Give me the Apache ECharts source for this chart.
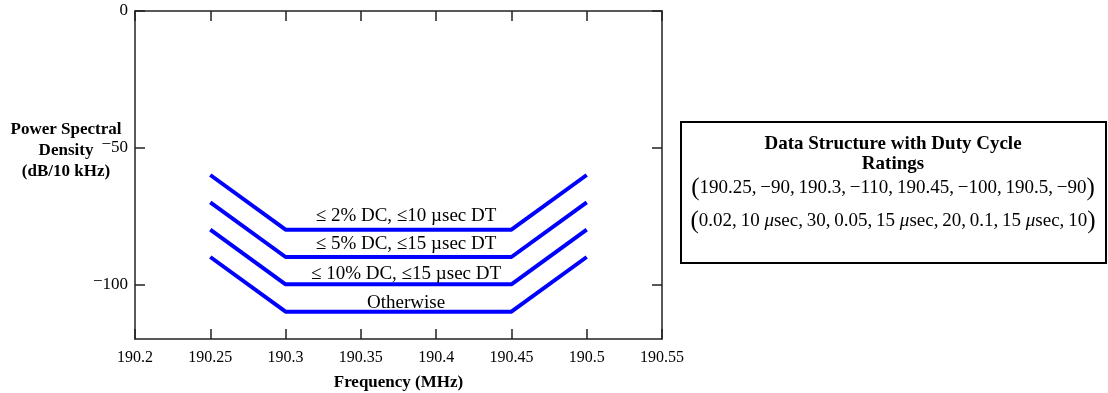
<!DOCTYPE html>
<html>
<head>
<meta charset="utf-8">
<script src="https://cdn.jsdelivr.net/npm/echarts@6/dist/echarts.min.js"></script>
<style>
  html, body { margin: 0; padding: 0; background: #fff; }
  #chart { width: 1108px; height: 393px; }
</style>
</head>
<body>
<div id="chart"></div>
<script>
// Emission mask breakpoints (MHz) shared by every duty-cycle tier
const freqs = [190.25, 190.3, 190.45, 190.5];
// PSD limits (dB/10 kHz) at each breakpoint, one row per tier
const tierLimits = [
  [-60, -80, -80, -60],
  [-70, -90, -90, -70],
  [-80, -100, -100, -80],
  [-90, -110, -110, -90]
];
const tierNames = [
  '≤ 2% DC, ≤10 µsec DT',
  '≤ 5% DC, ≤15 µsec DT',
  '≤ 10% DC, ≤15 µsec DT',
  'Otherwise'
];
const yTickValues = [0, -50, -100];
const yTitle = ['Power Spectral', 'Density', '(dB/10 kHz)'];
const boxTitle = ['Data Structure with Duty Cycle', 'Ratings'];
const boxRow1 = ['190.25', '−90', '190.3', '−110', '190.45', '−100', '190.5', '−90'];
const boxRow2 = ['0.02', '10 {i|μ}sec', '30', '0.05', '15 {i|μ}sec', '20', '0.1', '15 {i|μ}sec', '10'];

const FONT = '"Liberation Serif", "Times New Roman", serif';
const AXIS_COLOR = '#222';

const chart = echarts.init(document.getElementById('chart'), null, { renderer: 'canvas' });

// negative tick values use a raised minus
function yLabel(v) {
  return v < 0 ? '{m|−}{n|' + Math.abs(v) + '}' : '{n|' + v + '}';
}

// vertical lift of each tier caption above its flat segment
const captionLift = [13.5, 12.5, 10.5, 9];
const captionFreq = 190.38;

const series = tierLimits.map((row, i) => ({
  type: 'line',
  data: freqs.map((f, j) => [f, row[j]]),
  symbol: 'none',
  lineStyle: { color: '#0000ff', width: 4 },
  silent: true,
  markPoint: {
    symbol: 'circle',
    symbolSize: 0,
    silent: true,
    data: [{
      coord: [captionFreq, row[1]],
      label: {
        show: true,
        position: 'inside',
        offset: [0, -captionLift[i]],
        formatter: tierNames[i],
        color: '#000',
        fontFamily: FONT,
        fontSize: 19
      }
    }]
  }
}));

function tuple(items) {
  return '{p|(}' + items.join(',\u2009') + '{p|)}';
}

const boxCenter = 893;

const option = {
  animation: false,
  backgroundColor: '#fff',
  grid: { left: 135, right: 446, top: 11, bottom: 54, containLabel: false, outerBoundsMode: 'none' },
  xAxis: [{
    type: 'value',
    min: 190.2, max: 190.55, interval: 0.05,
    position: 'bottom',
    name: 'Frequency (MHz)',
    nameLocation: 'middle',
    nameGap: 35,
    nameTextStyle: { fontFamily: FONT, fontSize: 17, fontWeight: 'bold', color: '#000' },
    axisLine: { show: true, onZero: false, lineStyle: { color: AXIS_COLOR, width: 1.5 } },
    axisTick: { show: true, inside: true, length: 10, lineStyle: { color: AXIS_COLOR, width: 1.5 } },
    axisLabel: {
      show: true, margin: 11,
      fontFamily: FONT, fontSize: 16, color: '#000',
      formatter: v => String(Math.round(v * 100) / 100)
    },
    splitLine: { show: false }
  }, {
    type: 'value',
    min: 190.2, max: 190.55, interval: 0.05,
    position: 'top',
    axisLine: { show: true, onZero: false, lineStyle: { color: AXIS_COLOR, width: 1.5 } },
    axisTick: { show: true, inside: true, length: 10, lineStyle: { color: AXIS_COLOR, width: 1.5 } },
    axisLabel: { show: false },
    splitLine: { show: false }
  }],
  yAxis: [{
    type: 'value',
    min: -120, max: 0,
    position: 'left',
    axisLine: { show: true, onZero: false, lineStyle: { color: AXIS_COLOR, width: 1.5 } },
    axisTick: { show: true, inside: true, length: 10, customValues: yTickValues, lineStyle: { color: AXIS_COLOR, width: 1.5 } },
    axisLabel: {
      show: true, margin: 7, customValues: yTickValues,
      formatter: yLabel,
      rich: {
        m: { fontFamily: FONT, fontSize: 17, color: '#000', padding: [0, 0, 6, 0] },
        n: { fontFamily: FONT, fontSize: 17, color: '#000' }
      }
    },
    splitLine: { show: false }
  }, {
    type: 'value',
    min: -120, max: 0,
    position: 'right',
    axisLine: { show: true, onZero: false, lineStyle: { color: AXIS_COLOR, width: 1.5 } },
    axisTick: { show: true, inside: true, length: 10, customValues: yTickValues, lineStyle: { color: AXIS_COLOR, width: 1.5 } },
    axisLabel: { show: false },
    splitLine: { show: false }
  }],
  series: series,
  graphic: [
    ...yTitle.map((t, i) => ({
      type: 'text',
      x: 66, y: 130 + i * 21,
      style: {
        text: t,
        align: 'center', verticalAlign: 'middle',
        fontFamily: FONT, fontSize: 17, fontWeight: 'bold', fill: '#000'
      }
    })),
    {
      type: 'rect',
      shape: { x: 681, y: 122, width: 425, height: 141 },
      style: { fill: '#fff', stroke: '#000', lineWidth: 2 }
    },
    ...boxTitle.map((t, i) => ({
      type: 'text',
      x: boxCenter, y: 144 + i * 20,
      style: {
        text: t,
        align: 'center', verticalAlign: 'middle',
        fontFamily: FONT, fontSize: 19, fontWeight: 'bold', fill: '#000'
      }
    })),
    {
      type: 'text',
      x: boxCenter, y: 188,
      style: {
        text: tuple(boxRow1),
        align: 'center', verticalAlign: 'middle',
        fontFamily: FONT, fontSize: 19, fill: '#000',
        rich: {
          p: { fontFamily: FONT, fontSize: 25, fill: '#000' }
        }
      }
    },
    {
      type: 'text',
      x: boxCenter, y: 221,
      style: {
        text: tuple(boxRow2),
        align: 'center', verticalAlign: 'middle',
        fontFamily: FONT, fontSize: 19, fill: '#000',
        rich: {
          p: { fontFamily: FONT, fontSize: 25, fill: '#000' },
          i: { fontFamily: FONT, fontSize: 19, fontStyle: 'italic', fill: '#000' }
        }
      }
    }
  ]
};

chart.setOption(option);
</script>
</body>
</html>
